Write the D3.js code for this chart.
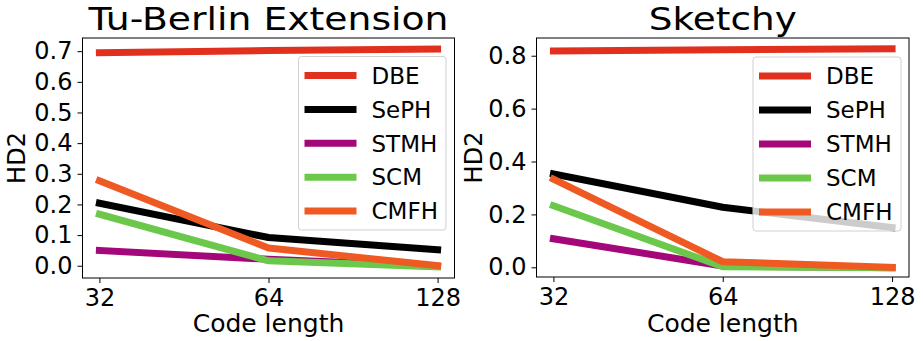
<!DOCTYPE html>
<html><head><meta charset="utf-8">
<script src="https://cdn.jsdelivr.net/npm/d3@7"></script>
<style>
html,body{margin:0;padding:0;background:#fff;}
svg{display:block;font-family:"DejaVu Sans",sans-serif;}
</style></head>
<body><svg id="chart" width="923" height="341"></svg>
<script>
// ---- data ----
const codeLengths = [32, 64, 128];
const seriesNames = ["DBE", "SePH", "STMH", "SCM", "CMFH"];
const seriesColors = ["#e2301f", "#000000", "#a3077a", "#6cc84a", "#ef5a22"];

const tuBerlinDBE  = [0.695, 0.702, 0.707];
const tuBerlinSePH = [0.204, 0.092, 0.052];
const tuBerlinSTMH = [0.050, 0.021, -0.002];
const tuBerlinSCM  = [0.168, 0.016, -0.004];
const tuBerlinCMFH = [0.277, 0.058, 0.000];

const sketchyDBE  = [0.818, 0.823, 0.826];
const sketchySePH = [0.353, 0.227, 0.150];
const sketchySTMH = [0.108, 0.005, -0.002];
const sketchySCM  = [0.233, 0.002, -0.002];
const sketchyCMFH = [0.333, 0.021, 0.000];

const tuBerlinTicks = [0.0, 0.1, 0.2, 0.3, 0.4, 0.5, 0.6, 0.7];
const sketchyTicks  = [0.0, 0.2, 0.4, 0.6, 0.8];

const panels = [
  {title: "Tu-Berlin Extension", titleLen: 360,
   series: [tuBerlinDBE, tuBerlinSePH, tuBerlinSTMH, tuBerlinSCM, tuBerlinCMFH],
   yTicks: tuBerlinTicks, yDomain: [-0.04, 0.743],
   box: {x0: 82.5, x1: 454.5, y0: 38, y1: 278},
   legend: {x0: 298.5, x1: 446, y0: 56.5, y1: 230},
   ylabelX: 25},
  {title: "Sketchy", titleLen: 148,
   series: [sketchyDBE, sketchySePH, sketchySTMH, sketchySCM, sketchyCMFH],
   yTicks: sketchyTicks, yDomain: [-0.0367, 0.867],
   box: {x0: 536.5, x1: 909, y0: 38, y1: 277},
   legend: {x0: 753, x1: 901, y0: 57, y1: 231},
   ylabelX: 482}
];

const svg = d3.select("#chart");
const TICK_FS = 24, LABEL_FS = 25, LEGEND_FS = 23;

panels.forEach(p => {
  const b = p.box;
  const x = d3.scaleLog().base(2)
    .domain([32 / Math.pow(2, 0.1), 128 * Math.pow(2, 0.1)])
    .range([b.x0, b.x1]);
  const y = d3.scaleLinear().domain(p.yDomain).range([b.y1, b.y0]);
  const g = svg.append("g");

  // lines
  const line = d3.line().x((d, i) => x(codeLengths[i])).y(d => y(d));
  p.series.forEach((vals, si) => {
    g.append("path").datum(vals)
      .attr("d", line)
      .attr("fill", "none")
      .attr("stroke", seriesColors[si])
      .attr("stroke-width", 7)
      .attr("stroke-linejoin", "round")
      .attr("stroke-linecap", "square");
  });

  // axes
  const xAxis = d3.axisBottom(x).tickValues(codeLengths).tickFormat(d3.format("d"))
    .tickSize(5).tickPadding(3);
  const yAxis = d3.axisLeft(y).tickValues(p.yTicks).tickFormat(d3.format(".1f"))
    .tickSize(5).tickPadding(5);
  const gx = g.append("g").attr("transform", `translate(0,${b.y1})`).call(xAxis);
  const gy = g.append("g").attr("transform", `translate(${b.x0},0)`).call(yAxis);
  [gx, gy].forEach(a => {
    a.select(".domain").remove();
    a.selectAll("text").attr("font-size", TICK_FS).attr("font-family", "DejaVu Sans").attr("fill", "#000");
    a.selectAll("line").attr("stroke", "#000").attr("stroke-width", 1);
  });
  gx.selectAll("text").attr("dy", "0.82em");

  // frame
  g.append("rect").attr("x", b.x0).attr("y", b.y0)
    .attr("width", b.x1 - b.x0).attr("height", b.y1 - b.y0)
    .attr("fill", "none").attr("stroke", "#000").attr("stroke-width", 1);

  // legend
  const L = p.legend;
  g.append("rect").attr("x", L.x0).attr("y", L.y0)
    .attr("width", L.x1 - L.x0).attr("height", L.y1 - L.y0)
    .attr("rx", 3).attr("ry", 3)
    .attr("fill", "#fff").attr("fill-opacity", 0.8)
    .attr("stroke", "#d0d0d0").attr("stroke-width", 1);
  const step = (L.y1 - L.y0 - 38) / 4;
  seriesNames.forEach((name, i) => {
    const ly = L.y0 + 19 + i * step;
    g.append("line").attr("x1", L.x0 + 6).attr("x2", L.x0 + 58)
      .attr("y1", ly).attr("y2", ly)
      .attr("stroke", seriesColors[i]).attr("stroke-width", 7);
    g.append("text").attr("x", L.x0 + 73).attr("y", ly)
      .attr("dy", "0.36em").attr("font-size", LEGEND_FS).text(name);
  });

  // titles and labels
  const cx = (b.x0 + b.x1) / 2;
  g.append("text").attr("x", cx).attr("y", 30).attr("text-anchor", "middle")
    .attr("font-size", 32)
    .attr("textLength", p.titleLen).attr("lengthAdjust", "spacingAndGlyphs")
    .text(p.title);
  g.append("text").attr("x", cx).attr("y", 332).attr("text-anchor", "middle")
    .attr("font-size", LABEL_FS).text("Code length");
  g.append("text").attr("transform", `translate(${p.ylabelX},${(b.y0 + b.y1) / 2}) rotate(-90)`)
    .attr("text-anchor", "middle").attr("font-size", TICK_FS).text("HD2");
});
</script>
</body></html>
